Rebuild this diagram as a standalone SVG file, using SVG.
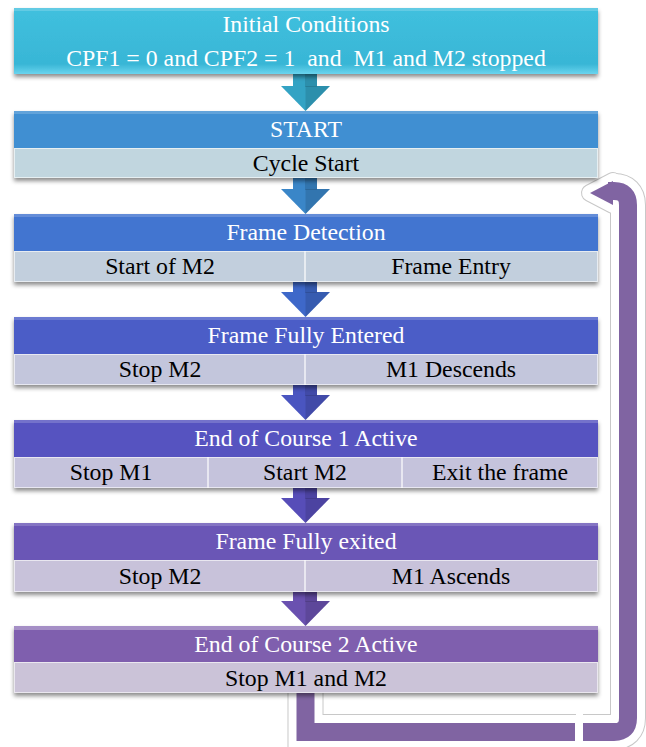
<svg xmlns="http://www.w3.org/2000/svg" width="646" height="747" viewBox="0 0 646 747">
<defs>
<style>
.t{font-family:"Liberation Serif","Times New Roman",serif;font-size:23.8px;text-anchor:middle}
.w{fill:#ffffff}
.k{fill:#000000}
.sub{stroke:#ffffff;stroke-opacity:0.6;stroke-width:1}
.div{stroke:#ffffff;stroke-width:1.5;stroke-opacity:0.8}
.hl{fill:#ffffff;opacity:0.18}
.sd{fill:#000000;opacity:0.12}
.out1{fill:none;stroke:#c8c8c8;stroke-width:36}
.out2{fill:none;stroke:#ffffff;stroke-width:34}
.loop{fill:none;stroke:#8064a2;stroke-width:18}
</style>
<filter id="sh" x="-5%" y="-20%" width="110%" height="150%">
<feDropShadow dx="0" dy="3" stdDeviation="2" flood-color="#000" flood-opacity="0.45"/>
</filter>
<linearGradient id="g1" x1="0" y1="0" x2="0" y2="1">
<stop offset="0" stop-color="#40c0de"/><stop offset="0.85" stop-color="#38b6d6"/><stop offset="1" stop-color="#6ad4ee"/>
</linearGradient>
</defs>

<g id="loop">
<path class="out1" d="M305.5 690 V732 H576"/>
<path class="out2" d="M305.5 690 V732 H576"/>
<path class="out1" d="M583 732 H614 Q628 732 628 718 V205 Q628 191 614 191 H610"/>
<polygon points="590,193 613,181 613,205" fill="#c8c8c8" stroke="#c8c8c8" stroke-width="18" stroke-linejoin="round"/>
<path class="out2" d="M583 732 H614 Q628 732 628 718 V205 Q628 191 614 191 H610"/>
<polygon points="590,193 613,181 613,205" fill="#ffffff" stroke="#ffffff" stroke-width="16" stroke-linejoin="round"/>
<path class="loop" d="M305.5 690 V732 H575"/>
<path class="loop" d="M583 732 H614 Q628 732 628 718 V205 Q628 191 614 191 H608"/>
<polygon points="590,193 613,181 613,205" fill="#8064a2"/>
</g>

<g id="connectors">
<g id="a1"><rect x="293" y="72" width="24" height="15" fill="#33a3c4"/><polygon points="281,86 330,86 305.5,111" fill="#33a3c4"/><polygon points="305.5,86 330,86 305.5,111" class="sd"/><rect x="305" y="72" width="12" height="15" class="sd"/></g>
<g id="a2"><rect x="293" y="177" width="24" height="13" fill="#3a86c8"/><polygon points="281,189 330,189 305.5,214" fill="#3a86c8"/><polygon points="305.5,189 330,189 305.5,214" class="sd"/><rect x="305" y="177" width="12" height="13" class="sd"/></g>
<g id="a3"><rect x="293" y="280" width="24" height="13" fill="#3e68c9"/><polygon points="281,292 330,292 305.5,317" fill="#3e68c9"/><polygon points="305.5,292 330,292 305.5,317" class="sd"/><rect x="305" y="280" width="12" height="13" class="sd"/></g>
<g id="a4"><rect x="293" y="383" width="24" height="13" fill="#4a55c0"/><polygon points="281,395 330,395 305.5,420" fill="#4a55c0"/><polygon points="305.5,395 330,395 305.5,420" class="sd"/><rect x="305" y="383" width="12" height="13" class="sd"/></g>
<g id="a5"><rect x="293" y="486" width="24" height="13" fill="#574db8"/><polygon points="281,498 330,498 305.5,523" fill="#574db8"/><polygon points="305.5,498 330,498 305.5,523" class="sd"/><rect x="305" y="486" width="12" height="13" class="sd"/></g>
<g id="a6"><rect x="293" y="589" width="24" height="13" fill="#6a51b0"/><polygon points="281,601 330,601 305.5,626" fill="#6a51b0"/><polygon points="305.5,601 330,601 305.5,626" class="sd"/><rect x="305" y="589" width="12" height="13" class="sd"/></g>
</g>

<g id="n1">
<rect x="14" y="8" width="584" height="66" fill="url(#g1)" filter="url(#sh)"/>
<rect x="14" y="8" width="584" height="3" class="hl"/>
<text class="t w" x="306" y="32">Initial Conditions</text>
<text class="t w" x="306" y="66" xml:space="preserve">CPF1 = 0 and CPF2 = 1  and  M1 and M2 stopped</text>
</g>

<g id="n2">
<g filter="url(#sh)"><rect x="14" y="111" width="584" height="37" fill="#3f8fd2"/><rect x="14" y="148" width="584" height="30" fill="#c1d6df"/></g>
<rect x="14" y="111" width="584" height="3" class="hl"/>
<rect x="14.5" y="148.5" width="583" height="29" fill="none" class="sub"/>
<text class="t w" x="306" y="137">START</text>
<text class="t k" x="306" y="171">Cycle Start</text>
</g>

<g id="n3">
<g filter="url(#sh)"><rect x="14" y="214" width="584" height="37" fill="#4275d0"/><rect x="14" y="251" width="584" height="31" fill="#c2cfdd"/></g>
<rect x="14" y="214" width="584" height="3" class="hl"/>
<rect x="14.5" y="251.5" width="583" height="30" fill="none" class="sub"/>
<line x1="305" y1="251" x2="305" y2="282" class="div"/>
<text class="t w" x="306" y="240">Frame Detection</text>
<text class="t k" x="160" y="274">Start of M2</text>
<text class="t k" x="451" y="274">Frame Entry</text>
</g>

<g id="n4">
<g filter="url(#sh)"><rect x="14" y="317" width="584" height="37" fill="#4c5dc7"/><rect x="14" y="354" width="584" height="31" fill="#c3c6dc"/></g>
<rect x="14" y="317" width="584" height="3" class="hl"/>
<rect x="14.5" y="354.5" width="583" height="30" fill="none" class="sub"/>
<line x1="305" y1="354" x2="305" y2="385" class="div"/>
<text class="t w" x="306" y="343">Frame Fully Entered</text>
<text class="t k" x="160" y="377">Stop M2</text>
<text class="t k" x="451" y="377">M1 Descends</text>
</g>

<g id="n5">
<g filter="url(#sh)"><rect x="14" y="420" width="584" height="37" fill="#5652c0"/><rect x="14" y="457" width="584" height="31" fill="#c5c3dc"/></g>
<rect x="14" y="420" width="584" height="3" class="hl"/>
<rect x="14.5" y="457.5" width="583" height="30" fill="none" class="sub"/>
<line x1="208" y1="457" x2="208" y2="488" class="div"/>
<line x1="402" y1="457" x2="402" y2="488" class="div"/>
<text class="t w" x="306" y="446">End of Course 1 Active</text>
<text class="t k" x="111" y="480">Stop M1</text>
<text class="t k" x="305" y="480">Start M2</text>
<text class="t k" x="500" y="480">Exit the frame</text>
</g>

<g id="n6">
<g filter="url(#sh)"><rect x="14" y="523" width="584" height="37" fill="#6a56b6"/><rect x="14" y="560" width="584" height="32" fill="#c8c2da"/></g>
<rect x="14" y="523" width="584" height="3" class="hl"/>
<rect x="14.5" y="560.5" width="583" height="31" fill="none" class="sub"/>
<line x1="305" y1="560" x2="305" y2="592" class="div"/>
<text class="t w" x="306" y="549">Frame Fully exited</text>
<text class="t k" x="160" y="584">Stop M2</text>
<text class="t k" x="451" y="584">M1 Ascends</text>
</g>

<g id="n7">
<g filter="url(#sh)"><rect x="14" y="626" width="584" height="36" fill="#7f5fae"/><rect x="14" y="662" width="584" height="31" fill="#cbc3d8"/></g>
<rect x="14" y="626" width="584" height="4" fill="#ffffff" opacity="0.3"/>
<rect x="14.5" y="662.5" width="583" height="30" fill="none" class="sub"/>
<text class="t w" x="306" y="652">End of Course 2 Active</text>
<text class="t k" x="306" y="686">Stop M1 and M2</text>
</g>
</svg>
